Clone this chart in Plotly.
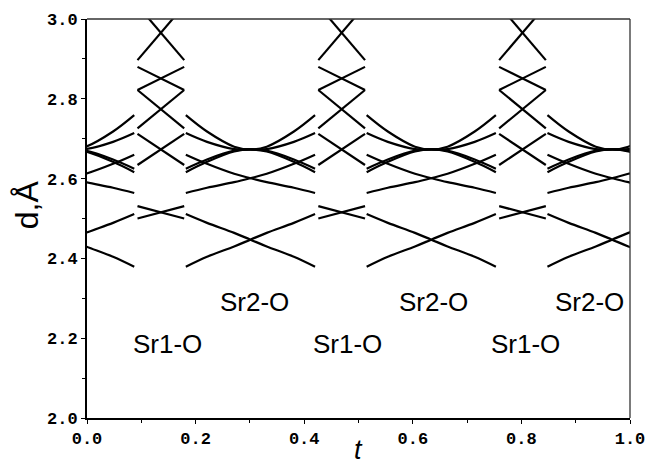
import plotly.graph_objects as go

# ---- data ----
# window A (narrow, straight crossing segments), centres in t and half width
A_centers = [0.136, 0.469, 0.802]
A_half = 0.043
A_left = [2.897, 3.034, 2.880, 2.822, 2.822, 2.726, 2.712, 2.634, 2.531, 2.500]
A_right = [3.034, 2.897, 2.822, 2.880, 2.726, 2.822, 2.634, 2.712, 2.500, 2.531]

# window B (wide, curved segments), centres and offsets
B_centers = [-0.032, 0.301, 0.634, 0.967]
B_u = [-0.119, -0.08, -0.03, 0.0, 0.03, 0.08, 0.119]
B_U1 = [2.759, 2.718, 2.680, 2.673, 2.680, 2.718, 2.759]
B_U2 = [2.714, 2.692, 2.674, 2.673, 2.674, 2.692, 2.714]
B_cap1 = [2.625, 2.648, 2.670, 2.673, 2.670, 2.648, 2.625]
B_cap2 = [2.616, 2.642, 2.668, 2.673, 2.668, 2.642, 2.616]
B_C1 = [2.660, 2.637, 2.612, 2.601, 2.591, 2.577, 2.564]
B_C2 = [2.564, 2.577, 2.591, 2.601, 2.612, 2.637, 2.660]
B_D1 = [2.511, 2.489, 2.464, 2.447, 2.430, 2.404, 2.379]
B_D2 = [2.379, 2.404, 2.430, 2.447, 2.464, 2.489, 2.511]

label_sr1_t = [0.149, 0.480, 0.807]
label_sr1_d = 2.186
label_sr2_t = [0.308, 0.639, 0.925]
label_sr2_d = 2.290

x_ticks = [0.0, 0.2, 0.4, 0.6, 0.8, 1.0]
y_ticks = [2.0, 2.2, 2.4, 2.6, 2.8, 3.0]

fig = go.Figure()
LW = 2.2

# window A segments
xa, ya = [], []
for c in A_centers:
    for l, r in zip(A_left, A_right):
        xa += [c - A_half, c + A_half, None]
        ya += [l, r, None]
fig.add_trace(go.Scatter(x=xa, y=ya, mode="lines",
                         line=dict(color="black", width=LW),
                         hoverinfo="skip", showlegend=False))

# window B curves
for prof in [B_U1, B_U2, B_cap1, B_cap2, B_C1, B_C2, B_D1, B_D2]:
    xb, yb = [], []
    for c in B_centers:
        xb += [c + u for u in B_u] + [None]
        yb += list(prof) + [None]
    fig.add_trace(go.Scatter(x=xb, y=yb, mode="lines",
                             line=dict(color="black", width=LW, shape="spline"),
                             connectgaps=False,
                             hoverinfo="skip", showlegend=False))

lab_font = dict(family="Liberation Sans", size=26, color="black")
for t in label_sr1_t:
    fig.add_annotation(x=t, y=label_sr1_d, xref="x", yref="y", text="Sr1-O",
                       showarrow=False, font=lab_font)
for t in label_sr2_t:
    fig.add_annotation(x=t, y=label_sr2_d, xref="x", yref="y", text="Sr2-O",
                       showarrow=False, font=lab_font)

# axis titles
fig.add_annotation(x=-0.11, y=2.534, xref="paper", yref="y", text="d,Å",
                   textangle=-90, showarrow=False, xanchor="center", yanchor="middle",
                   font=dict(family="Liberation Sans", size=32, color="black"))
fig.add_annotation(x=0.5, y=-0.124, xref="paper", yref="paper", text="<i>t</i>",
                   showarrow=False, xanchor="center", yanchor="bottom",
                   font=dict(family="Liberation Sans", size=27, color="black"))

# thinner top and right frame lines
fig.add_shape(type="line", xref="paper", yref="paper", x0=0, x1=1, y0=1, y1=1,
              line=dict(color="#333333", width=1.3))
fig.add_shape(type="line", xref="paper", yref="paper", x0=1, x1=1, y0=0, y1=1,
              line=dict(color="#333333", width=1.3))

tick_font = dict(family="Liberation Mono", size=17, color="black", weight="bold")
fig.update_xaxes(range=[0, 1], tickvals=x_ticks, ticktext=[f"{v:.1f}" for v in x_ticks],
                 showgrid=False, zeroline=False, automargin=False,
                 showline=True, linecolor="black", linewidth=2,
                 ticks="outside", ticklen=4, tickwidth=1, tickcolor="black",
                 minor=dict(dtick=0.1, ticks="outside", ticklen=3, tickcolor="black"),
                 tickfont=tick_font)
fig.update_yaxes(range=[2.0, 3.0], tickvals=y_ticks, ticktext=[f"{v:.1f}" for v in y_ticks],
                 showgrid=False, zeroline=False, automargin=False,
                 showline=True, linecolor="black", linewidth=2,
                 ticks="outside", ticklen=4, tickwidth=1, tickcolor="black",
                 minor=dict(dtick=0.1, ticks="outside", ticklen=3, tickcolor="black"),
                 tickfont=tick_font)

# page body has an 8px default margin, so the figure is 8px smaller
fig.update_layout(width=645, height=460,
                  margin=dict(l=79, r=23, t=11, b=50, autoexpand=False),
                  plot_bgcolor="white", paper_bgcolor="white",
                  showlegend=False)

fig.write_html("out.html")
